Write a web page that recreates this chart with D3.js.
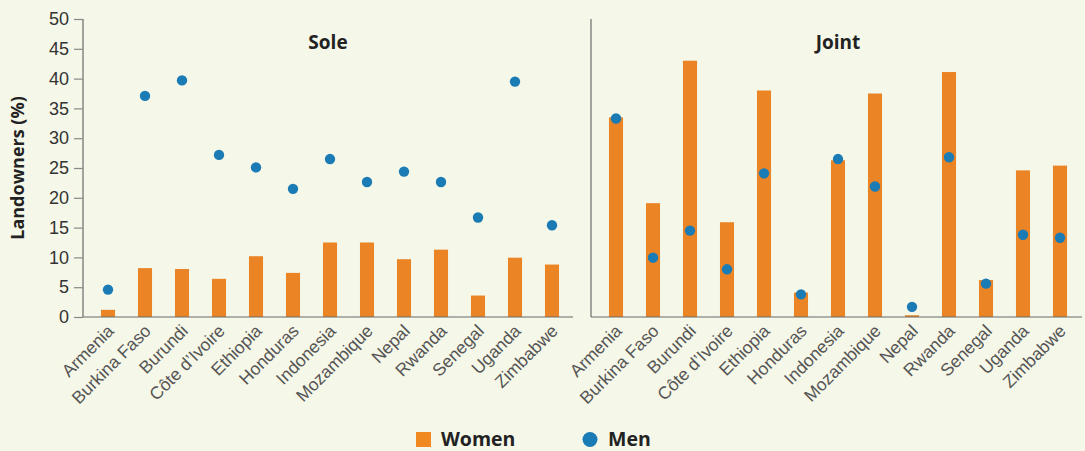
<!DOCTYPE html>
<html><head><meta charset="utf-8">
<script src="https://cdn.jsdelivr.net/npm/d3@7"></script>
<style>
html,body{margin:0;padding:0;background:#F5F7E8;}
svg{display:block;font-family:"Open Sans",Lato,sans-serif;}
</style></head><body>
<svg id="c" width="1085" height="451"></svg>
<script>
const countries = ["Armenia","Burkina Faso","Burundi","Côte d’Ivoire","Ethiopia","Honduras","Indonesia","Mozambique","Nepal","Rwanda","Senegal","Uganda","Zimbabwe"];
const soleWomen = [1.2, 8.2, 8.05, 6.4, 10.2, 7.4, 12.5, 12.5, 9.7, 11.3, 3.6, 9.95, 8.8];
const soleMen   = [4.6, 37.1, 39.7, 27.2, 25.1, 21.5, 26.5, 22.65, 24.4, 22.65, 16.7, 39.5, 15.4];
const jointWomen = [33.5, 19.1, 43.0, 15.9, 38.0, 4.1, 26.3, 37.5, 0.3, 41.1, 6.2, 24.6, 25.4];
const jointMen   = [33.3, 9.95, 14.5, 8.0, 24.1, 3.8, 26.5, 21.9, 1.7, 26.8, 5.6, 13.8, 13.3];
const yTicks = [0,5,10,15,20,25,30,35,40,45,50];
const panelTitles = ["Sole","Joint"];
const legendLabels = ["Women","Men"];

const ORANGE = "#EA8425", BLUE = "#1B7BB5", AXIS = "#6b6b6b", TEXT = "#555";
const svg = d3.select("#c");
const y = d3.scaleLinear().domain([0,50]).range([317,19]);

const panels = [
  {title: panelTitles[0], women: soleWomen, men: soleMen, x0: 83, x1: 573, range:[89.5,570.5], ticks:true, titleX:328},
  {title: panelTitles[1], women: jointWomen, men: jointMen, x0: 591, x1: 1082, range:[597.5,1078.5], ticks:false, titleX:838}
];

panels.forEach(p => {
  const x = d3.scaleBand().domain(countries).range(p.range).paddingInner(0.62).paddingOuter(0.31);
  const g = svg.append("g");
  g.selectAll("rect.bar").data(countries).join("rect")
    .attr("x", d => x(d)).attr("width", x.bandwidth())
    .attr("y", (d,i) => y(p.women[i])).attr("height", (d,i) => y(0) - y(p.women[i]))
    .attr("fill", ORANGE);
  g.selectAll("circle.dot").data(countries).join("circle")
    .attr("cx", d => x(d) + x.bandwidth()/2).attr("cy", (d,i) => y(p.men[i]))
    .attr("r", 5.2).attr("fill", BLUE);
  const ya = g.append("g").attr("transform", `translate(${p.x0},0)`)
    .call(d3.axisLeft(y).tickValues(yTicks).tickSize(p.ticks ? 9 : 0).tickPadding(5).tickFormat(p.ticks ? d3.format("d") : () => ""));
  ya.select(".domain").attr("stroke", AXIS).attr("stroke-width", 1.2).attr("d", `M0,${y(50)}V${y(0)}`);
  ya.selectAll(".tick line").attr("stroke", "#888").attr("stroke-width", 1.2);
  ya.selectAll(".tick text").attr("fill", "#333").attr("font-size", 18);
  const xa = g.append("g").attr("transform", `translate(0,${y(0)})`)
    .call(d3.axisBottom(x).tickSize(0).tickPadding(0));
  xa.select(".domain").attr("stroke", AXIS).attr("stroke-width", 1.2).attr("d", `M${p.x0},0H${p.x1}`);
  xa.selectAll(".tick text")
    .attr("fill", TEXT).attr("font-size", 17.5)
    .attr("text-anchor", "end").attr("dy", 0)
    .attr("transform", "translate(7,15) rotate(-45)");
  g.append("text").attr("x", p.titleX).attr("y", 49).attr("text-anchor", "middle")
    .attr("font-weight", "bold").attr("font-size", 19).attr("fill", "#222").text(p.title);
});

svg.append("text").attr("transform", "translate(24,168) rotate(-90)")
  .attr("text-anchor", "middle").attr("font-weight", "bold").attr("font-size", 18).attr("fill", "#222")
  .text("Landowners (%)");

const lg = svg.append("g");
lg.append("rect").attr("x", 416).attr("y", 432).attr("width", 15).attr("height", 15).attr("fill", "#F08A20");
lg.append("text").attr("x", 441).attr("y", 446).attr("font-weight", "bold").attr("font-size", 19.5).attr("fill", "#222").text(legendLabels[0]);
lg.append("circle").attr("cx", 590).attr("cy", 439.5).attr("r", 7.5).attr("fill", BLUE);
lg.append("text").attr("x", 608).attr("y", 446).attr("font-weight", "bold").attr("font-size", 19.5).attr("fill", "#222").text(legendLabels[1]);
</script>
</body></html>
